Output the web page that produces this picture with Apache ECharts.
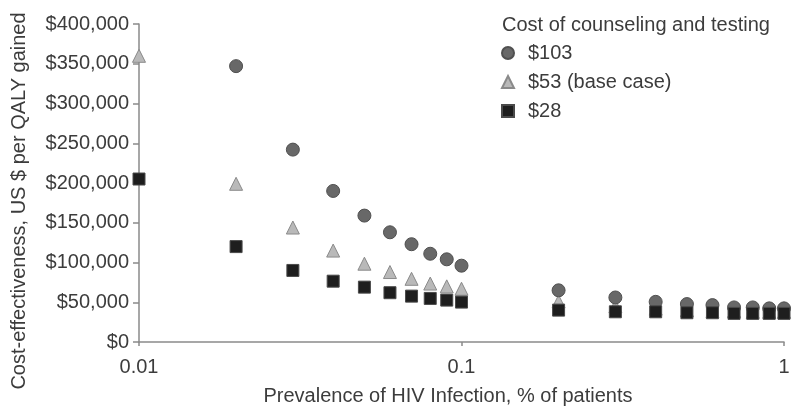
<!DOCTYPE html>
<html>
<head>
<meta charset="utf-8">
<script src="https://cdn.jsdelivr.net/npm/echarts@6/dist/echarts.min.js"></script>
<style>
html,body{margin:0;padding:0;background:#fff;}
#chart{width:800px;height:414px;}
</style>
</head>
<body>
<div id="chart"></div>
<script>
var prevalence = [0.01, 0.02, 0.03, 0.04, 0.05, 0.06, 0.07, 0.08, 0.09, 0.1, 0.2, 0.3, 0.4, 0.5, 0.6, 0.7, 0.8, 0.9, 1.0];
var cost103 = [null, 347000, 242000, 190000, 159000, 138000, 123000, 111000, 104000, 96000, 65000, 56000, 50500, 47700, 46400, 43500, 43500, 42300, 42300];
var cost53  = [360000, 199000, 144000, 115000, 98500, 88000, 79500, 73500, 70000, 67000, 51000, 45000, 42000, 40000, 39000, 39000, 38000, 38000, 38000];
var cost28  = [205000, 120000, 90000, 76500, 69000, 62000, 57700, 54800, 52700, 50200, 40100, 38000, 38000, 36800, 36800, 36000, 36000, 36000, 36000];
var seriesNames = ['$103', '$53 (base case)', '$28'];
var yTicks = [0, 50000, 100000, 150000, 200000, 250000, 300000, 350000, 400000];
var xTickLabels = {'0.01': '0.01', '0.1': '0.1', '1': '1'};

function pairs(vals) {
  var out = [];
  for (var i = 0; i < prevalence.length; i++) {
    if (vals[i] != null) out.push([prevalence[i], vals[i]]);
  }
  return out;
}

var FONT = '"Liberation Sans", Arial, Helvetica, sans-serif';
var TXT = '#3c3c3c';
var chart = echarts.init(document.getElementById('chart'), null, {renderer: 'canvas'});
chart.setOption({
  animation: false,
  backgroundColor: '#fff',
  textStyle: {fontFamily: FONT},
  title: {
    text: 'Cost of counseling and testing',
    left: 497, top: 10,
    textStyle: {fontFamily: FONT, fontSize: 20, fontWeight: 'normal', color: TXT}
  },
  legend: {
    data: seriesNames,
    orient: 'vertical',
    left: 501, top: 43,
    itemWidth: 12, itemHeight: 12,
    itemGap: 9,
    padding: 0,
    textStyle: {fontFamily: FONT, fontSize: 20, color: TXT, lineHeight: 20, padding: [0, 0, 0, 9]}
  },
  grid: {left: 139, right: 16, top: 24, bottom: 72, containLabel: false},
  xAxis: {
    type: 'log',
    logBase: 10,
    min: 0.01, max: 1,
    name: 'Prevalence of HIV Infection, % of patients',
    nameLocation: 'middle',
    nameGap: 44,
    nameTextStyle: {fontFamily: FONT, fontSize: 20, color: TXT, padding: [0, 27, 0, 0]},
    axisLine: {show: true, lineStyle: {color: '#8a8a8a', width: 1.5}},
    axisTick: {show: true, length: 4, lineStyle: {color: '#8a8a8a', width: 1.5}},
    minorTick: {show: false},
    splitLine: {show: false},
    axisLabel: {
      fontFamily: FONT, fontSize: 20, color: TXT, margin: 15,
      formatter: function (v) {
        var k = String(+v.toPrecision(6));
        return xTickLabels[k] !== undefined ? xTickLabels[k] : '';
      }
    }
  },
  yAxis: {
    type: 'value',
    min: yTicks[0], max: yTicks[yTicks.length - 1], interval: yTicks[1] - yTicks[0],
    name: 'Cost-effectiveness, US $ per QALY gained',
    nameLocation: 'middle',
    nameGap: 110,
    nameRotate: 90,
    nameTextStyle: {fontFamily: FONT, fontSize: 20, color: TXT, padding: [0, 36, 0, 0]},
    axisLine: {show: true, lineStyle: {color: '#8a8a8a', width: 1.5}},
    axisTick: {show: true, length: 6, lineStyle: {color: '#8a8a8a', width: 1.5}},
    splitLine: {show: false},
    axisLabel: {
      fontFamily: FONT, fontSize: 20, color: TXT, margin: 10,
      formatter: function (v) { return '$' + Number(v).toLocaleString('en-US'); }
    }
  },
  series: [
    {
      name: seriesNames[0], type: 'scatter', symbol: 'circle', symbolSize: 13, z: 3,
      itemStyle: {color: '#686868', borderColor: '#505050', borderWidth: 1, opacity: 1},
      data: pairs(cost103)
    },
    {
      name: seriesNames[1], type: 'scatter', symbol: 'triangle', symbolSize: 13, z: 2,
      itemStyle: {color: '#b9b9b9', borderColor: '#8a8a8a', borderWidth: 1, opacity: 1},
      data: pairs(cost53)
    },
    {
      name: seriesNames[2], type: 'scatter', symbol: 'rect', symbolSize: 12, z: 4,
      itemStyle: {color: '#1e1e1e', borderColor: '#4a4a4a', borderWidth: 1, opacity: 1},
      data: pairs(cost28)
    }
  ]
});
</script>
</body>
</html>
